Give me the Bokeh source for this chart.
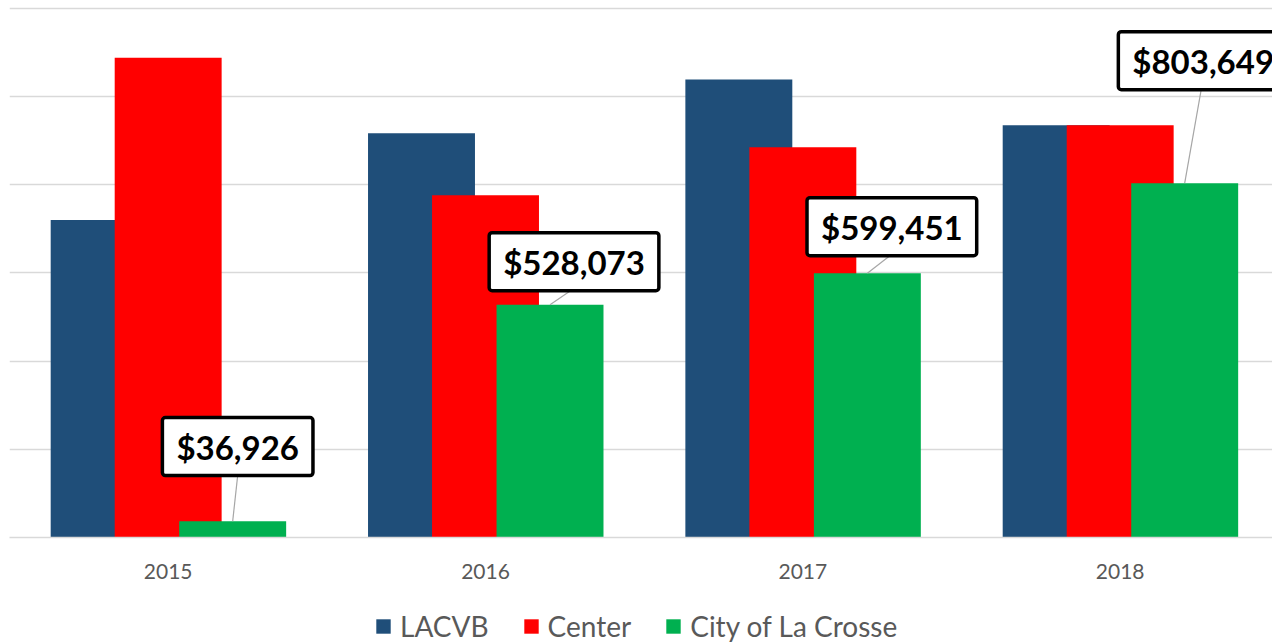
from bokeh.plotting import figure
from bokeh.models import (Range1d, FixedTicker, Grid, ColumnDataSource, Legend,
                          LegendItem)
from bokeh.layouts import column
from bokeh.core.properties import value
from bokeh.transform import dodge
from bokeh.embed import file_html
from bokeh.resources import INLINE

# ---------------- data ----------------
years = ["2015", "2016", "2017", "2018"]
lacvb = [720000, 917000, 1039000, 935000]
center = [1088000, 776000, 885000, 935000]
city = [36926, 528073, 599451, 803649]
city_labels = ["$36,926", "$528,073", "$599,451", "$803,649"]
series_names = ["LACVB", "Center", "City of La Crosse"]
y_ticks = [0, 200000, 400000, 600000, 800000, 1000000, 1200000]

# ---------------- layout / style ----------------
W, H = 1272, 643
LEFT = 9
FRAME_W = W - LEFT
FRAME_H = 537
LEG_H = 40
X_END = 3.98
Y_END = 1218000
colors = ["#1F4E79", "#FF0000", "#00B050"]
offsets = [-0.2017, 0.0, 0.2033]
bar_w = 0.337
# label box offsets in pixels (from top-centre of the green bar)
lab_dx = [5, 24, 24.5, 18.5]
lab_dy = [74.7, 43, 46.5, 122.5]
lead_dx = [5, 20.5, 22.5, 16.5]
box_half_h = 29

xu = X_END / FRAME_W        # data units per px (x)
yu = Y_END / FRAME_H        # data units per px (y)

idx = [i + 0.5 for i in range(len(years))]
src = ColumnDataSource(dict(idx=idx, years=years, lacvb=lacvb,
                            center=center, city=city))

p = figure(width=W, height=H - LEG_H,
           x_range=Range1d(0, X_END), y_range=Range1d(0, Y_END),
           output_backend="svg", toolbar_location=None, y_axis_location=None,
           min_border_left=LEFT, min_border_right=0, min_border_top=0,
           min_border_bottom=H - LEG_H - FRAME_H)
p.outline_line_color = None
p.background_fill_color = "white"
p.border_fill_color = "white"
p.grid.grid_line_color = None

g = Grid(dimension=1, ticker=FixedTicker(ticks=y_ticks),
         grid_line_color="#D9D9D9", grid_line_width=1.3)
p.add_layout(g)

for name, col, off, c in zip(series_names, ["lacvb", "center", "city"],
                             offsets, colors):
    p.vbar(x=dodge("idx", off, range=p.x_range), top=col, width=bar_w,
           source=src, fill_color=c, line_color=None)

# leader lines + data labels for City series
gx = [i + offsets[2] for i in idx]
lsrc = ColumnDataSource(dict(
    x0=gx, y0=city,
    x1=[x + d * xu for x, d in zip(gx, lead_dx)],
    y1=[v + (dy - box_half_h) * yu for v, dy in zip(city, lab_dy)],
    lx=[x + d * xu for x, d in zip(gx, lab_dx)],
    ly=[v + dy * yu for v, dy in zip(city, lab_dy)],
    lab=city_labels))
p.segment(x0="x0", y0="y0", x1="x1", y1="y1", source=lsrc,
          line_color="#A6A6A6", line_width=1.2)
p.text(x="lx", y="ly", text="lab", source=lsrc, text_align="center",
       text_baseline="middle", text_font=value("Lato"),
       text_font_style="bold", text_font_size="33px", text_color="black",
       background_fill_color="white", border_line_color="black",
       border_line_width=3.5, padding=(14, 9), border_radius=3)

# x axis
ax = p.xaxis[0]
ax.ticker = FixedTicker(ticks=idx)
ax.major_label_overrides = {x: y for x, y in zip(idx, years)}
ax.axis_line_color = "#D9D9D9"
ax.axis_line_width = 1.3
ax.major_tick_line_color = None
ax.minor_tick_line_color = None
ax.major_label_standoff = 20
ax.major_label_text_font = "Lato"
ax.major_label_text_font_size = "21px"
ax.major_label_text_color = "#595959"

# legend strip (separate small figure under the chart); its proxy
# renderers sit outside the visible range and only supply legend swatches
lf = figure(width=W, height=LEG_H, x_range=Range1d(0, 1),
            y_range=Range1d(0, 1), output_backend="svg",
            toolbar_location=None, x_axis_location=None,
            y_axis_location=None, min_border=0)
lf.outline_line_color = None
lf.grid.grid_line_color = None
lf.border_fill_color = "white"
proxy = ColumnDataSource(dict(x=[-10.0], top=[-10.0]))
items = []
for name, c in zip(series_names, colors):
    r = lf.vbar(x="x", top="top", width=0.1, source=proxy, fill_color=c,
                line_color=None)
    items.append(LegendItem(label=name, renderers=[r]))
legend = Legend(items=items, orientation="horizontal", location=(365, 0),
                margin=0, padding=0, spacing=33, label_standoff=8,
                glyph_width=18, glyph_height=18,
                label_text_font="Lato", label_text_font_size="28px",
                label_text_color="#595959", border_line_color=None,
                background_fill_alpha=0)
lf.add_layout(legend, "center")

layout = column(p, lf, spacing=0)
open("out.html", "w").write(file_html(layout, INLINE))
